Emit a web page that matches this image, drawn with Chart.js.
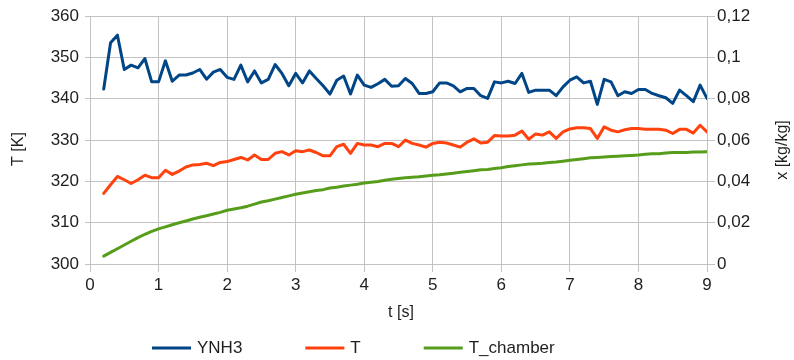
<!DOCTYPE html>
<html>
<head>
<meta charset="utf-8">
<script src="https://cdn.jsdelivr.net/npm/chart.js@4.4.1/dist/chart.umd.min.js"></script>
<style>
  html, body { margin: 0; padding: 0; background: #ffffff; }
  #c { display: block; }
</style>
</head>
<body>
<canvas id="c" width="794" height="360"></canvas>
<script>
// Sampling instants [s]
const timeS = [
  0.2, 0.3, 0.4, 0.5, 0.6, 0.7, 0.8, 0.9, 1.0, 1.1, 1.2, 1.3, 1.4, 1.5, 1.6, 1.7, 1.8, 1.9,
  2.0, 2.1, 2.2, 2.3, 2.4, 2.5, 2.6, 2.7, 2.8, 2.9, 3.0, 3.1, 3.2, 3.3, 3.4, 3.5, 3.6, 3.7,
  3.8, 3.9, 4.0, 4.1, 4.2, 4.3, 4.4, 4.5, 4.6, 4.7, 4.8, 4.9, 5.0, 5.1, 5.2, 5.3, 5.4, 5.5,
  5.6, 5.7, 5.8, 5.9, 6.0, 6.1, 6.2, 6.3, 6.4, 6.5, 6.6, 6.7, 6.8, 6.9, 7.0, 7.1, 7.2, 7.3,
  7.4, 7.5, 7.6, 7.7, 7.8, 7.9, 8.0, 8.1, 8.2, 8.3, 8.4, 8.5, 8.6, 8.7, 8.8, 8.9, 9.0
];

// NH3 mass fraction x [kg/kg] (right axis)
const yNH3 = [
  0.0847, 0.1071, 0.1108, 0.0942, 0.0963, 0.0950, 0.0995, 0.0882, 0.0882, 0.0984,
  0.0885, 0.0915, 0.0915, 0.0925, 0.0942, 0.0895, 0.0929, 0.0942, 0.0904, 0.0894,
  0.0963, 0.0882, 0.0935, 0.0877, 0.0894, 0.0966, 0.0923, 0.0863, 0.0923, 0.0877,
  0.0935, 0.0898, 0.0863, 0.0823, 0.0890, 0.0910, 0.0823, 0.0915, 0.0866, 0.0855,
  0.0873, 0.0894, 0.0861, 0.0863, 0.0898, 0.0874, 0.0826, 0.0826, 0.0834, 0.0877,
  0.0877, 0.0863, 0.0834, 0.0850, 0.0850, 0.0815, 0.0802, 0.0882, 0.0877, 0.0885,
  0.0874, 0.0923, 0.0831, 0.0842, 0.0842, 0.0842, 0.0815, 0.0858, 0.0890, 0.0906,
  0.0877, 0.0885, 0.0773, 0.0894, 0.0882, 0.0815, 0.0834, 0.0826, 0.0845, 0.0845,
  0.0826, 0.0815, 0.0805, 0.0778, 0.0842, 0.0815, 0.0786, 0.0866, 0.0802
];

// Gas temperature T [K] (left axis)
const tGas = [
  317.1, 319.2, 321.2, 320.4, 319.5, 320.4, 321.5, 320.9, 320.9, 322.7,
  321.7, 322.5, 323.5, 324.0, 324.1, 324.4, 323.8, 324.6, 324.8, 325.3,
  325.8, 325.2, 326.4, 325.3, 325.3, 326.8, 327.2, 326.4, 327.4, 327.2,
  327.6, 327.0, 326.2, 326.2, 328.4, 329.0, 326.8, 329.2, 328.8, 328.8,
  328.4, 329.2, 329.2, 328.4, 330.0, 329.2, 328.8, 328.3, 329.2, 329.5,
  329.3, 328.8, 328.3, 329.5, 330.3, 329.3, 329.5, 331.1, 331.0, 331.0,
  331.2, 332.2, 330.2, 331.5, 331.2, 332.0, 330.4, 332.0, 332.7, 333.0,
  333.0, 332.8, 330.4, 333.2, 332.4, 332.0, 332.5, 332.8, 332.8, 332.6,
  332.6, 332.6, 332.4, 331.6, 332.6, 332.6, 331.7, 333.6, 332.0
];

// Chamber temperature T_chamber [K] (left axis)
const tChamber = [
  301.9, 302.8, 303.7, 304.6, 305.5, 306.4, 307.2, 307.9, 308.5, 309.0,
  309.5, 310.0, 310.4, 310.9, 311.3, 311.7, 312.1, 312.5, 313.0, 313.3,
  313.6, 314.0, 314.5, 315.0, 315.3, 315.7, 316.1, 316.5, 316.9, 317.2,
  317.5, 317.8, 318.0, 318.4, 318.6, 318.9, 319.1, 319.3, 319.6, 319.8,
  320.0, 320.3, 320.5, 320.7, 320.9, 321.0, 321.1, 321.3, 321.5, 321.6,
  321.8, 322.0, 322.2, 322.4, 322.6, 322.8, 322.9, 323.1, 323.3, 323.6,
  323.8, 324.0, 324.2, 324.3, 324.4, 324.6, 324.7, 324.9, 325.1, 325.3,
  325.5, 325.7, 325.8, 325.9, 326.0, 326.1, 326.2, 326.3, 326.4, 326.6,
  326.7, 326.7, 326.9, 327.0, 327.0, 327.0, 327.1, 327.1, 327.2
];

const seriesNames = ['YNH3', 'T', 'T_chamber'];
const xTitle = 't [s]';
const yTitle = 'T [K]';
const y1Title = 'x [kg/kg]';

const FONT = '"Liberation Sans", Arial, sans-serif';
const TEXT = '#1e1e1e';
const GRID = '#c3c3c3';

const pts = (vals) => timeS.map((t, i) => ({ x: t, y: vals[i] }));

// Axis titles and a line-sample legend under the x axis
const overlay = {
  id: 'overlay',
  afterDraw(chart) {
    const ctx = chart.ctx;
    ctx.save();
    ctx.fillStyle = TEXT;
    ctx.textBaseline = 'middle';
    ctx.textAlign = 'center';
    ctx.font = '16px ' + FONT;
    ctx.fillText(xTitle, 401, 313);
    ctx.save();
    ctx.translate(19, 149);
    ctx.rotate(-Math.PI / 2);
    ctx.fillText(yTitle, 0, 0);
    ctx.restore();
    ctx.save();
    ctx.translate(783, 150);
    ctx.rotate(-Math.PI / 2);
    ctx.fillText(y1Title, 0, 0);
    ctx.restore();

    ctx.font = '17px ' + FONT;
    ctx.textAlign = 'left';
    let x = 152;
    const yMid = 348;
    chart.data.datasets.forEach(ds => {
      ctx.fillStyle = ds.borderColor;
      ctx.fillRect(x, yMid - 1.5, 39, 3);
      x += 45;
      ctx.fillStyle = TEXT;
      ctx.fillText(ds.label, x, yMid);
      x += ctx.measureText(ds.label).width + 63;
    });
    ctx.restore();
  }
};

new Chart(document.getElementById('c'), {
  type: 'line',
  data: {
    datasets: [
      { label: seriesNames[0], data: pts(yNH3), yAxisID: 'y1', borderColor: '#004586', backgroundColor: '#004586' },
      { label: seriesNames[1], data: pts(tGas), yAxisID: 'y', borderColor: '#ff420e', backgroundColor: '#ff420e' },
      { label: seriesNames[2], data: pts(tChamber), yAxisID: 'y', borderColor: '#579d1c', backgroundColor: '#579d1c' }
    ]
  },
  options: {
    responsive: false,
    animation: false,
    layout: { padding: { top: 16, left: 0, right: 0, bottom: 0 } },
    elements: {
      point: { radius: 0 },
      line: { borderWidth: 3, tension: 0, borderJoinStyle: 'round', borderCapStyle: 'round' }
    },
    plugins: { legend: { display: false }, tooltip: { enabled: false } },
    scales: {
      x: {
        type: 'linear', min: 0, max: 9,
        ticks: { stepSize: 1, padding: 3, color: TEXT, font: { family: FONT, size: 17 } },
        grid: { color: GRID, lineWidth: 1, tickLength: 8 },
        border: { color: GRID },
        afterFit: s => { s.height = 96; }
      },
      y: {
        position: 'left', min: 300, max: 360,
        ticks: { stepSize: 10, padding: 6, color: TEXT, font: { family: FONT, size: 17 } },
        grid: { color: GRID, lineWidth: 1, tickLength: 5 },
        border: { color: GRID },
        afterFit: s => { s.width = 90; }
      },
      y1: {
        position: 'right', min: 0, max: 0.12,
        ticks: {
          stepSize: 0.02, padding: 2, color: TEXT, font: { family: FONT, size: 17 },
          callback: v => String(Number(v.toFixed(2))).replace('.', ',')
        },
        grid: { color: GRID, lineWidth: 1, tickLength: 8, drawOnChartArea: false },
        border: { color: GRID },
        afterFit: s => { s.width = 87; }
      }
    }
  },
  plugins: [overlay]
});
</script>
</body>
</html>
